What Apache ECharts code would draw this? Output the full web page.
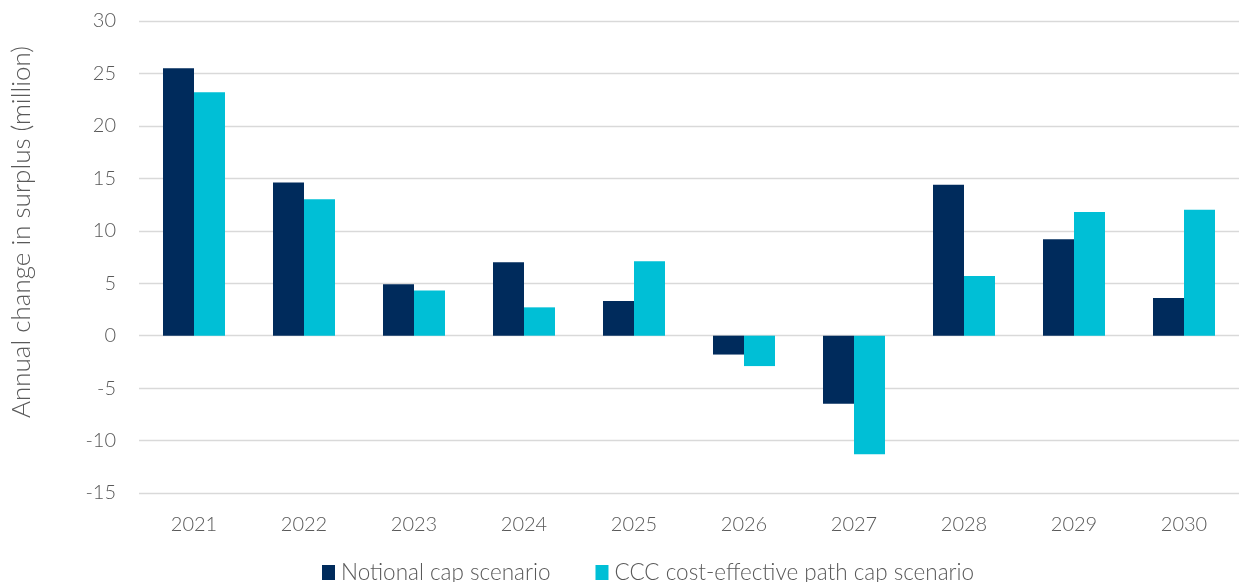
<!DOCTYPE html>
<html><head><meta charset="utf-8">
<script src="https://cdn.jsdelivr.net/npm/echarts@6/dist/echarts.min.js"></script>
<style>html,body{margin:0;padding:0;background:#fff}#c{width:1256px;height:582px}</style>
</head><body><div id="c"></div>
<script>
var categories = ['2021','2022','2023','2024','2025','2026','2027','2028','2029','2030'];
var notional = [25.5, 14.6, 4.9, 7.0, 3.3, -1.8, -6.5, 14.4, 9.2, 3.6];
var ccc = [23.2, 13.0, 4.3, 2.7, 7.1, -2.9, -11.3, 5.7, 11.8, 12.0];
var seriesNames = ['Notional cap scenario', 'CCC cost-effective path cap scenario'];
var yTicks = {min: -15, max: 30, interval: 5};
var font = 'Lato, "Open Sans", sans-serif';
var chart = echarts.init(document.getElementById('c'), null, {renderer: 'canvas'});
chart.setOption({
  animation: false,
  textStyle: {fontFamily: font},
  grid: {left: 139, right: 17, top: 21, bottom: 89, containLabel: false},
  legend: {
    bottom: -7, left: 317, itemWidth: 13, itemHeight: 15, itemGap: 45,
    icon: 'rect',
    textStyle: {color: '#595959', fontSize: 22.5, fontFamily: font, fontWeight: 300, padding: [0,0,0,1]},
    data: seriesNames
  },
  xAxis: {
    type: 'category', data: categories,
    axisLine: {show: false}, axisTick: {show: false},
    axisLabel: {color: '#595959', fontSize: 20, margin: 22, fontWeight: 300}
  },
  yAxis: {
    type: 'value', min: yTicks.min, max: yTicks.max, interval: yTicks.interval,
    name: 'Annual change in surplus (million)', nameLocation: 'middle', nameGap: 104,
    nameTextStyle: {color: '#595959', fontSize: 26, fontWeight: 300, padding: [0,0,0,50]},
    axisLine: {show: false}, axisTick: {show: false},
    axisLabel: {color: '#595959', fontSize: 20, margin: 23, fontWeight: 300},
    splitLine: {lineStyle: {color: '#d9d9d9', width: 1.3}}
  },
  series: [
    {name: seriesNames[0], type: 'bar', data: notional, barWidth: 31, barGap: '0%', itemStyle: {color: '#002b5c'}},
    {name: seriesNames[1], type: 'bar', data: ccc, barWidth: 31, barGap: '0%', itemStyle: {color: '#00bfd6'}}
  ]
});
</script></body></html>
